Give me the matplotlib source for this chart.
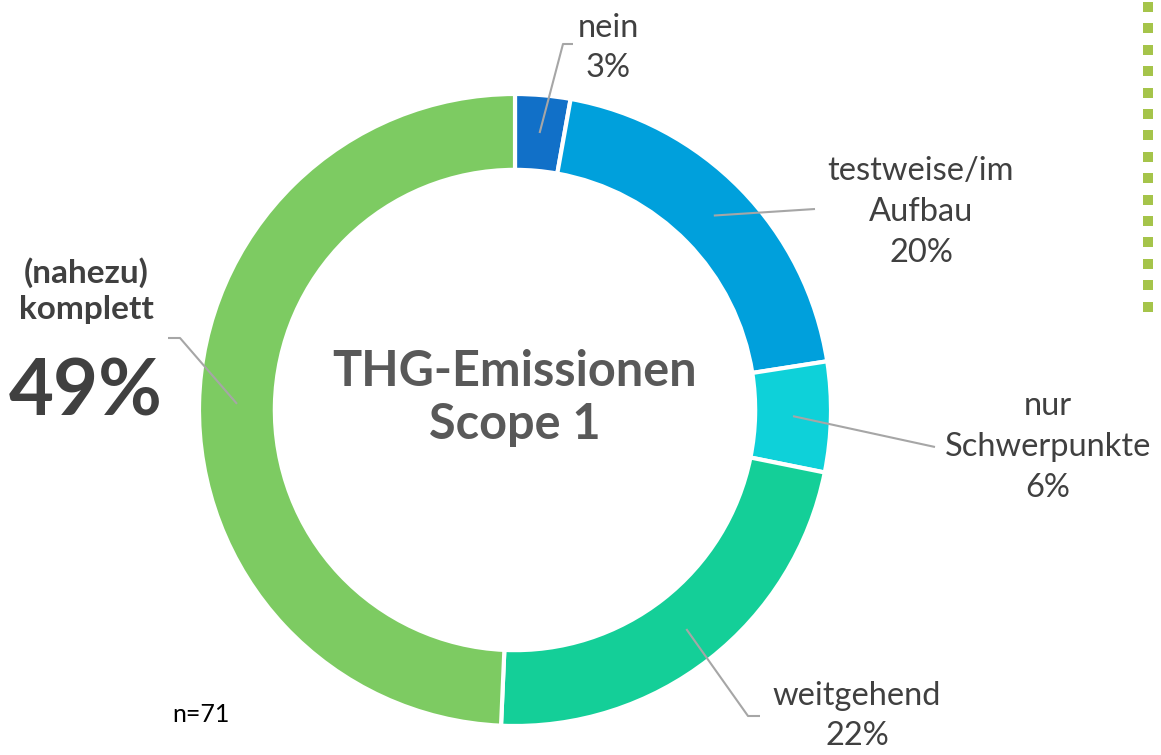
import numpy as np
import matplotlib
matplotlib.use("Agg")
import matplotlib.pyplot as plt

plt.rcParams["font.family"] = ["Lato", "DejaVu Sans"]

categories = ["nein", "testweise/im\nAufbau", "nur\nSchwerpunkte", "weitgehend", "(nahezu)\nkomplett"]
counts = [2, 14, 4, 16, 35]
pct_labels = [3, 20, 6, 22, 49]
colors = ["#1170C8", "#00A0DC", "#0ED1D9", "#14CF98", "#7DCB62"]
n_total = 71

W, H = 1161, 755
CX, CY, R = 515, 410, 316


def px(x, y):
    # pixel position -> data units of the donut axes
    return (x - CX) / R, (CY - y) / R


fig = plt.figure(figsize=(W / 100, H / 100), dpi=100)
ax = fig.add_axes([(CX - R) / W, (H - CY - R) / H, 2 * R / W, 2 * R / H])
wedges, _ = ax.pie(counts, colors=colors, startangle=90, counterclock=False, radius=1,
                   wedgeprops=dict(width=0.24, edgecolor="white", linewidth=3))
ax.set_xlim(-1, 1); ax.set_ylim(-1, 1); ax.set_aspect("equal"); ax.axis("off")

text_c = "#404040"
line_c = "#A6A6A6"
# label anchor (text centre), leader end, optional elbow end
label_pos = [((608, 48), (563, 44), (573, 44)),
             ((921, 212), (815, 209), None),
             ((1048, 447), (935, 447), None),
             ((857, 716), (748, 716), (760, 716)),
             ((86, 291), (180, 338), (168, 338))]

for w, cat, s, (tp, lp, ep) in zip(wedges, categories, pct_labels, label_pos):
    mid = np.deg2rad((w.theta1 + w.theta2) / 2)
    x0, y0 = 0.88 * np.cos(mid), 0.88 * np.sin(mid)
    xs, ys = [x0, px(*lp)[0]], [y0, px(*lp)[1]]
    if ep is not None:
        xs.append(px(*ep)[0]); ys.append(px(*ep)[1])
    ax.plot(xs, ys, color=line_c, lw=1.5, clip_on=False, solid_capstyle="butt")
    tx, ty = px(*tp)
    if cat.startswith("(nahezu)"):
        ax.text(tx, ty, cat, ha="center", va="center", fontsize=24, fontweight="bold",
                color=text_c, linespacing=1.3, clip_on=False)
        bx, by = px(86, 394)
        ax.text(bx, by, f"{s}%", ha="center", va="center", fontsize=56, fontweight="bold",
                color=text_c, clip_on=False)
    else:
        ax.text(tx, ty, f"{cat}\n{s}%", ha="center", va="center", fontsize=23.5,
                color=text_c, linespacing=1.45, clip_on=False)

ax.text(0, px(0, 398)[1], "THG-Emissionen\nScope 1", ha="center", va="center", fontsize=35,
        fontweight="bold", color="#595959", linespacing=1.2)

fig.text(172 / W, 1 - 715 / H, f"n={n_total}", ha="left", va="center", fontsize=18, color="black")

# dotted green divider on the right
deco = fig.add_axes([0, 0, 1, 1]); deco.set_xlim(0, W); deco.set_ylim(H, 0); deco.axis("off")
ys_dots = np.arange(7, 310, 21.4)
deco.plot(np.full_like(ys_dots, 1148.0), ys_dots, "s", ms=7.2, color="#A5C44A", mew=0)

fig.savefig("out.png", dpi=100)
